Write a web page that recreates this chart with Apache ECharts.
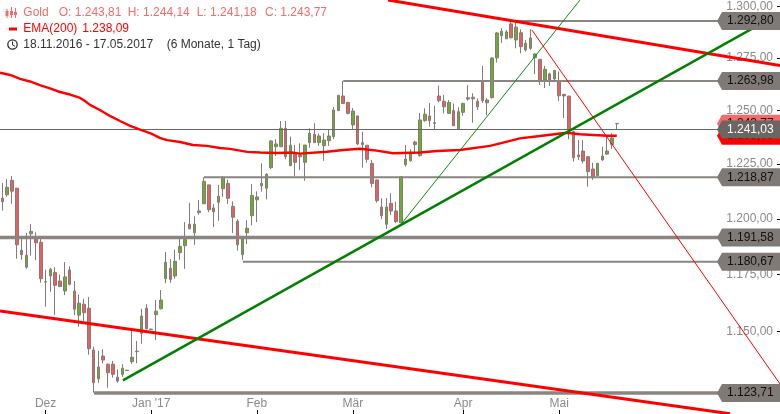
<!DOCTYPE html>
<html>
<head>
<meta charset="utf-8">
<title>Gold</title>
<style>
    html,body{margin:0;padding:0;background:#fff;overflow:hidden;}
    #chart{width:780px;height:414px;}
</style>
<script src="https://cdn.jsdelivr.net/npm/echarts@6/dist/echarts.min.js"></script>
</head>
<body>
<div id="chart"></div>
<script>
    // Handelstage 18.11.2016 - 17.05.2017, danach leerer Platz bis zum rechten Rand
    var days = [
        '18.11','21.11','22.11','23.11','24.11','25.11','28.11','29.11','30.11',
        '01.12','02.12','05.12','06.12','07.12','08.12','09.12','12.12','13.12','14.12','15.12','16.12','19.12','20.12','21.12','22.12','23.12','26.12','27.12','28.12','29.12','30.12',
        '02.01','03.01','04.01','05.01','06.01','09.01','10.01','11.01','12.01','13.01','16.01','17.01','18.01','19.01','20.01','23.01','24.01','25.01','26.01','27.01','30.01','31.01',
        '01.02','02.02','03.02','06.02','07.02','08.02','09.02','10.02','13.02','14.02','15.02','16.02','17.02','20.02','21.02','22.02','23.02','24.02','27.02','28.02',
        '01.03','02.03','03.03','06.03','07.03','08.03','09.03','10.03','13.03','14.03','15.03','16.03','17.03','20.03','21.03','22.03','23.03','24.03','27.03','28.03','29.03','30.03','31.03',
        '03.04','04.04','05.04','06.04','07.04','10.04','11.04','12.04','13.04','14.04','17.04','18.04','19.04','20.04','21.04','24.04','25.04','26.04','27.04','28.04',
        '01.05','02.05','03.05','04.05','05.05','08.05','09.05','10.05','11.05','12.05','15.05','16.05','17.05',
        '18.05','19.05','22.05','23.05','24.05','25.05','26.05','29.05','30.05','31.05',
        '01.06','02.06','05.06','06.06','07.06','08.06','09.06','12.06','13.06','14.06','15.06','16.06','19.06','20.06','21.06','22.06','23.06','26.06','27.06','28.06','29.06','30.06',
        '03.07','04.07'
    ];
    var monthTicks = {'01.12':'Dez','02.01':"Jan '17",'01.02':'Feb','01.03':'Mär','03.04':'Apr','01.05':'Mai'};
    var monthTickDays = [9,31,53,73,96,116];

    var openValues = [
        1209.3,1210.9,1217.5,1213.9,1185.8,1178.3,1193.2,1190.9,1189.4,1171.9,1174.4,1176.0,1172.2,1167.8,1177.1,1167.8,1157.2,1162.0,1160.2,1142.1,
        1129.8,1139.5,1136.0,1136.0,1130.5,1131.7,1133.3,1137.1,1141.6,1149.3,1160.2,1151.1,1157.4,1160.0,1173.2,1177.8,1174.4,1184.8,1187.9,1197.5,
        1193.7,1202.8,1206.8,1215.4,1203.2,1207.5,1213.7,1216.1,1205.6,1198.9,1183.9,1193.7,1201.4,1208.6,1215.0,1213.9,1223.3,1233.0,1233.0,1241.6,
        1224.2,1229.6,1228.4,1225.8,1234.9,1238.8,1234.9,1233.5,1235.8,1237.7,1249.9,1256.8,1253.8,1243.2,1247.4,1234.0,1233.7,1225.3,1217.7,1205.3,
        1197.5,1207.0,1203.5,1198.2,1224.7,1226.5,1235.2,1228.9,1245.2,1247.4,1244.2,1256.8,1254.3,1248.6,1249.9,1241.1,1249.1,1256.0,1256.2,1254.3,
        1263.3,1253.6,1256.0,1275.0,1285.7,1284.2,1291.4,1283.6,1287.1,1278.8,1279.6,1275.1,1274.3,1264.4,1267.3,1264.9,1263.9,1257.6,1256.8,1240.0,
        1229.2,1231.0,1228.4,1222.7,1219.6,1226.9,1229.6,1234.1,1243.81
    ];
    var closeValues = [
        1207.7,1214.3,1212.5,1188.3,1183.9,1183.6,1194.3,1189.2,1173.2,1171.7,1177.4,1170.3,1169.7,1174.0,1170.7,1159.8,1162.4,1158.3,1142.7,1128.1,
        1134.8,1137.8,1132.4,1131.7,1128.8,1134.3,1133.4,1139.0,1141.4,1156.8,1151.3,1151.0,1158.9,1163.8,1180.5,1172.9,1180.9,1187.6,1190.7,1195.5,
        1197.5,1203.5,1217.0,1204.1,1204.9,1210.2,1218.9,1209.3,1200.7,1188.3,1191.0,1195.7,1210.6,1209.9,1216.1,1220.3,1235.7,1234.3,1241.6,1228.4,
        1233.7,1225.8,1229.2,1233.8,1239.3,1234.9,1238.0,1236.1,1238.0,1250.2,1257.1,1253.3,1248.6,1249.7,1234.3,1234.9,1227.2,1216.1,1208.2,1201.4,
        1205.3,1203.5,1198.7,1219.2,1227.3,1230.0,1234.0,1245.5,1248.2,1245.2,1243.9,1254.6,1251.7,1253.8,1242.8,1249.4,1253.3,1255.4,1255.5,1251.7,
        1254.6,1254.9,1274.9,1287.0,1287.8,1287.5,1284.7,1289.8,1280.4,1282.0,1284.6,1276.9,1263.9,1269.5,1264.4,1268.9,1256.9,1256.8,1240.8,1227.9,
        1228.4,1226.4,1221.5,1219.2,1225.3,1228.7,1231.0,1237.1,1243.77
    ];
    var lowValues = [
        1203.7,1210.0,1206.8,1182.1,1181.6,1177.6,1183.4,1181.4,1171.4,1160.9,1167.5,1157.3,1169.7,1166.0,1170.3,1157.2,1152.2,1154.7,1140.1,1123.9,
        1128.1,1136.4,1126.0,1130.3,1128.1,1130.5,1133.1,1136.2,1136.4,1144.8,1151.0,1150.7,1146.4,1159.7,1171.2,1171.4,1173.2,1181.6,1177.6,1195.2,
        1188.3,1201.8,1206.8,1203.0,1196.3,1199.1,1210.0,1206.7,1193.6,1185.7,1181.6,1188.6,1197.0,1198.5,1212.3,1208.8,1222.6,1228.7,1233.0,1227.2,
        1224.1,1219.5,1222.2,1217.3,1232.6,1234.9,1233.4,1226.5,1233.4,1236.5,1249.7,1253.3,1248.1,1241.3,1233.8,1223.3,1225.6,1214.3,1207.3,1199.8,
        1195.4,1201.7,1198.0,1198.0,1223.8,1226.1,1230.0,1228.4,1244.7,1242.4,1241.1,1253.8,1248.6,1248.6,1242.8,1241.1,1247.5,1254.6,1244.2,1250.2,
        1253.5,1247.8,1255.7,1272.7,1282.2,1284.1,1284.4,1279.6,1277.2,1278.0,1278.8,1267.2,1262.0,1260.6,1261.6,1264.4,1254.4,1246.4,1236.5,1226.1,
        1226.9,1225.3,1214.6,1217.7,1219.5,1226.5,1229.2,1232.0,1241.18
    ];
    var highValues = [
        1216.3,1218.0,1219.5,1214.0,1190.9,1193.6,1197.6,1193.9,1190.9,1177.2,1178.0,1178.3,1175.0,1180.6,1178.7,1172.2,1166.3,1164.4,1165.1,1143.5,
        1141.7,1142.4,1136.4,1137.4,1133.8,1136.0,1133.7,1150.3,1146.0,1160.0,1162.0,1151.3,1163.8,1168.2,1185.0,1181.9,1186.1,1191.3,1198.5,1207.2,
        1201.1,1208.5,1218.9,1215.5,1206.7,1215.4,1219.3,1217.8,1207.9,1199.8,1192.1,1199.3,1215.8,1212.5,1225.3,1220.7,1236.1,1236.5,1245.0,1245.0,
        1237.7,1233.8,1234.6,1233.8,1241.6,1244.0,1239.3,1239.3,1240.8,1251.6,1257.3,1263.9,1254.0,1251.1,1247.4,1240.0,1233.8,1226.9,1217.7,1209.3,
        1209.4,1211.6,1207.7,1219.5,1233.8,1231.8,1235.8,1248.8,1251.0,1253.4,1252.1,1261.7,1257.3,1254.9,1253.3,1251.5,1253.6,1262.0,1258.1,1255.7,
        1271.1,1255.8,1275.2,1287.4,1289.4,1288.4,1293.0,1292.8,1288.8,1283.6,1288.8,1277.2,1274.3,1271.2,1267.9,1269.2,1268.4,1257.6,1256.8,1240.5,
        1236.1,1236.1,1228.4,1225.6,1225.6,1233.0,1237.7,1239.3,1244.14
    ];

    var emaDays = [-0.5,1.6,3.7,5.75,7.8,9.9,12,14.1,16.2,17.2,18.25,20.3,22.4,24.5,26.6,28.7,30.75,32.8,34.3,37,39.7,42.6,45.3,47.4,51,53.7,57.2,60.5,62,67.6,71,74.5,78,81.4,87,90.5,95.3,101.6,103.7,107.8,112,117.6,120.3,126,128];
    var emaValues = [1267.9,1266.8,1264.9,1263.7,1262,1260.4,1258.7,1257.5,1255.9,1254.4,1252.6,1250.2,1247.4,1245,1242.7,1241,1239.4,1237.1,1236.1,1235.2,1233.8,1233.4,1232.4,1232,1230.6,1230.3,1230.1,1230.3,1229.8,1230.7,1231.5,1232.1,1231.2,1230,1230.3,1231,1231.5,1233.4,1234.6,1236.9,1238,1239.5,1238.8,1238.1,1238.09];

    // Trendlinien: Start- und Endpunkt (Tag, Kurs)
    var redUpperDays = [80.33,162], redUpperPrices = [1303.09,1271.3];
    var redLowerDays = [-0.5,151.6], redLowerPrices = [1159,1115];
    var greenMainDays = [25.1,162], greenMainPrices = [1129.1,1296.7];
    var greenThinDays = [83.2,120.3], greenThinPrices = [1197.9,1303];
    var redThinDays = [110.3,162], redThinPrices = [1288.5,1127.6];

    // Horizontale Marken
    var levelValues = [1292.80,1263.98,1218.87,1191.58,1180.67,1123.71];
    var levelStarts = [106.2,71,42,-0.5,50.1,19.1];
    var levelWidths = [2,2,2,3.5,2,3.5];
    var lastPrice = 1241.03, lastOpen = 1243.77, lastEma = 1238.09;

    var yTicks = [1150,1175,1200,1225,1250,1275,1300];

    var fontName = '"Liberation Sans"';
    var gray = '#817c78';
    var tagColors = ['#f56a6a','#ff0000','#7f7a76','#7f7a76','#7f7a76','#7f7a76','#7f7a76','#7f7a76','#6b6662'];
    var tagTextColors = ['#111','#111','#111','#111','#111','#111','#111','#111','#fff'];
    var tagValues = [lastOpen,lastEma].concat(levelValues).concat([lastPrice]);

    function fmt(v){
        var s = v.toFixed(2).split('.');
        return s[0].charAt(0)+'.'+s[0].slice(1)+','+s[1];
    }
    function pts(xs,ys){
        return xs.map(function(x,i){ return [x,ys[i]]; });
    }
    function lineSeries(name,xs,ys,color,width,z){
        return {
            name:name,
            type:'line',
            xAxisIndex:1,
            yAxisIndex:0,
            data:pts(xs,ys),
            showSymbol:false,
            symbol:'none',
            clip:true,
            silent:true,
            z:z,
            lineStyle:{color:color,width:width}
        };
    }

    var candles = openValues.map(function(o,i){
        return [o,closeValues[i],lowValues[i],highValues[i]];
    });

    var series = [{
        name:'Gold',
        type:'candlestick',
        xAxisIndex:0,
        yAxisIndex:0,
        data:candles,
        barWidth:3,
        silent:true,
        z:2,
        itemStyle:{
            color:'#6cae2c',
            color0:'#f05c5c',
            borderColor:gray,
            borderColor0:gray,
            borderColorDoji:gray,
            borderWidth:1
        }
    }];

    levelValues.forEach(function(v,i){
        series.push(lineSeries('level'+i,[levelStarts[i],150],[v,v],'#8a8581',levelWidths[i],3));
    });
    series.push(lineSeries('last',[-0.5,150],[lastPrice,lastPrice],'#666',1,3));
    series.push(lineSeries('EMA(200)',emaDays,emaValues,'#ff0000',2.4,4));
    series.push(lineSeries('redUpper',redUpperDays,redUpperPrices,'#ff0000',3,5));
    series.push(lineSeries('redLower',redLowerDays,redLowerPrices,'#ff0000',3,5));
    series.push(lineSeries('greenMain',greenMainDays,greenMainPrices,'#008000',2.5,5));
    series.push(lineSeries('greenThin',greenThinDays,greenThinPrices,'#108a10',1,5));
    series.push(lineSeries('redThin',redThinDays,redThinPrices,'#ff0000',1,5));

    // Kursfähnchen am rechten Rand
    series.push({
        name:'tags',
        type:'custom',
        xAxisIndex:1,
        yAxisIndex:0,
        clip:false,
        silent:true,
        z:10,
        encode:{x:0,y:1},
        data:tagValues.map(function(v){ return [150,v]; }),
        renderItem:function(params,api){
            var y = api.coord([150,api.value(1)])[1];
            return {
                type:'group',
                children:[{
                    type:'polygon',
                    shape:{points:[[717,y],[722,y-9],[782,y-9],[782,y+9],[722,y+9]]},
                    style:{fill:tagColors[params.dataIndex]}
                },{
                    type:'text',
                    x:727,
                    y:y,
                    style:{
                        text:fmt(api.value(1)),
                        fill:tagTextColors[params.dataIndex],
                        font:'12px '+fontName,
                        verticalAlign:'middle'
                    }
                }]
            };
        }
    });

    function headText(x,y,text,color){
        return {type:'text',x:x,y:y,silent:true,style:{text:text,fill:color,font:'12px '+fontName,verticalAlign:'middle'}};
    }
    function headRect(x,y,w,h,color){
        return {type:'rect',silent:true,shape:{x:x,y:y,width:w,height:h},style:{fill:color}};
    }

    var pink = '#f56a6a';
    var header = [
        // Kerzen-Symbol
        headRect(6.5,9,1,9,pink),headRect(5.5,11,3,5,pink),
        headRect(11,7,1,11,pink),headRect(10,11,3,4,pink),
        headRect(15,8,1,10,pink),headRect(14,12,3,3,pink),
        headText(23.3,12.7,'Gold',pink),
        headText(58.7,12.7,'O: 1.243,81',pink),
        headText(127.7,12.7,'H: 1.244,14',pink),
        headText(196.7,12.7,'L: 1.241,18',pink),
        headText(265,12.7,'C: 1.243,77',pink),
        headRect(9,27.5,8,3,'#ff0000'),
        headText(23.3,29,'EMA(200)','#ff0000'),
        headText(82.3,29,'1.238,09','#ff0000'),
        // Uhr-Symbol
        {type:'circle',silent:true,shape:{cx:12.5,cy:44.5,r:4.7},style:{fill:'none',stroke:'#222',lineWidth:1.2}},
        {type:'polyline',silent:true,shape:{points:[[12.5,41.5],[12.5,44.8],[15,46.3]]},style:{fill:'none',stroke:'#222',lineWidth:1}},
        headText(23.3,44.7,'18.11.2016 - 17.05.2017','#333'),
        headText(166.7,44.7,'(6 Monate, 1 Tag)','#333')
    ];

    var chart = echarts.init(document.getElementById('chart'),null,{renderer:'canvas'});
    chart.setOption({
        animation:false,
        backgroundColor:'#fff',
        textStyle:{fontFamily:fontName},
        grid:{left:0,top:0,width:782.4,height:414,containLabel:false,outerBoundsMode:'none'},
        xAxis:[{
            type:'category',
            data:days,
            boundaryGap:true,
            axisLine:{show:false,onZero:false},
            axisTick:{
                show:true,
                inside:true,
                length:4,
                alignWithLabel:true,
                customValues:monthTickDays,
                lineStyle:{color:'#000',width:1}
            },
            axisLabel:{
                show:true,
                inside:true,
                margin:4,
                fontSize:12,
                color:'#8a8a8a',
                interval:function(i,v){ return !!monthTicks[v]; },
                formatter:function(v){ return monthTicks[v]; }
            },
            splitLine:{show:false}
        },{
            type:'value',
            show:false,
            min:-0.5,
            max:162.5,
            axisLine:{onZero:false},
            splitLine:{show:false}
        }],
        yAxis:[{
            type:'log',
            position:'right',
            min:1114.9,
            max:1303.09,
            axisLine:{show:false,onZero:false},
            axisTick:{show:true,inside:true,length:5.4,customValues:yTicks,lineStyle:{color:'#000',width:1}},
            axisLabel:{
                show:true,
                inside:true,
                margin:9.4,
                fontSize:12,
                color:'#8a8a8a',
                padding:[0,0,3,0],
                customValues:yTicks,
                formatter:function(v){ return fmt(v); }
            },
            splitLine:{show:false}
        }],
        graphic:{elements:header},
        series:series
    });
</script>
</body>
</html>
